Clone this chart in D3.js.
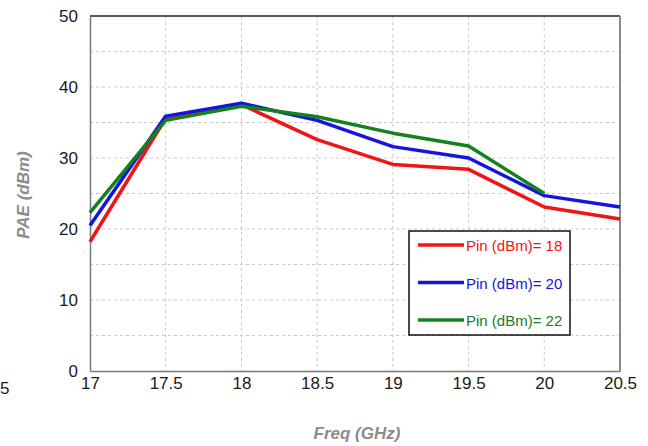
<!DOCTYPE html>
<html>
<head>
<meta charset="utf-8">
<script src="https://cdn.jsdelivr.net/npm/d3@7"></script>
<style>
  html, body { margin: 0; padding: 0; background: #fff; }
  svg { display: block; font-family: "Liberation Sans", Arial, sans-serif; }
</style>
</head>
<body>
<svg id="chart" width="648" height="446"></svg>
<script>
// Frequency points (GHz)
const freqs = [17, 17.5, 18, 18.5, 19, 19.5, 20, 20.5];

// PAE values per input power level
const pae18 = [18.2, 35.6, 37.5, 32.6, 29.1, 28.4, 23.1, 21.4];
const pae20 = [20.5, 35.9, 37.7, 35.3, 31.6, 30.0, 24.7, 23.1];
const pae22 = [22.3, 35.3, 37.3, 35.8, 33.5, 31.7, 25.0];

const seriesNames = ["Pin (dBm)= 18", "Pin (dBm)= 20", "Pin (dBm)= 22"];
const seriesColors = ["#f01414", "#1414e0", "#14801e"];

const xTicks = [17, 17.5, 18, 18.5, 19, 19.5, 20, 20.5];
const yTicks = [0, 10, 20, 30, 40, 50];
const yGrid = [5, 10, 15, 20, 25, 30, 35, 40, 45];

const svg = d3.select("#chart");
const plotL = 90, plotR = 620, plotT = 16, plotB = 371;

const x = d3.scaleLinear().domain([17, 20.5]).range([plotL, plotR]);
const y = d3.scaleLinear().domain([0, 50]).range([plotB, plotT]);

// Grid
const grid = svg.append("g").attr("stroke", "#c8c8c8").attr("stroke-width", 1)
  .attr("stroke-dasharray", "3,3");
grid.selectAll("line.v").data(xTicks.slice(1, -1)).join("line")
  .attr("x1", d => x(d)).attr("x2", d => x(d)).attr("y1", plotT).attr("y2", plotB);
grid.selectAll("line.h").data(yGrid).join("line")
  .attr("x1", plotL).attr("x2", plotR).attr("y1", d => y(d)).attr("y2", d => y(d));

// Frame
svg.append("line").attr("x1", plotL).attr("x2", plotR).attr("y1", plotT).attr("y2", plotT)
  .attr("stroke", "#222").attr("stroke-width", 1.5);
svg.append("line").attr("x1", plotR).attr("x2", plotR).attr("y1", plotT).attr("y2", plotB)
  .attr("stroke", "#8a8a8a").attr("stroke-width", 2);

// Axes
const xAxis = d3.axisBottom(x).tickValues(xTicks).tickSize(0).tickPadding(6)
  .tickFormat(d => d3.format("")(d));
const gx = svg.append("g").attr("transform", `translate(0,${plotB})`).call(xAxis);
gx.select(".domain").attr("stroke", "#7a7a7a").attr("stroke-width", 1.5);
gx.selectAll("text").attr("font-size", 17).attr("fill", "#1a1a1a")
  .attr("font-family", "Liberation Sans, Arial, sans-serif");

const yAxis = d3.axisLeft(y).tickValues(yTicks).tickSize(0).tickPadding(12);
const gy = svg.append("g").attr("transform", `translate(${plotL},0)`).call(yAxis);
gy.select(".domain").attr("stroke", "#7a7a7a").attr("stroke-width", 1.5);
gy.selectAll("text").attr("font-size", 17).attr("fill", "#1a1a1a")
  .attr("font-family", "Liberation Sans, Arial, sans-serif");

// Axis titles
svg.append("text").attr("x", 357).attr("y", 439).attr("text-anchor", "middle")
  .attr("font-size", 17).attr("font-style", "italic").attr("font-weight", "bold")
  .attr("fill", "#8c8c8c").text("Freq (GHz)");
svg.append("text").attr("transform", "translate(29,195) rotate(-90)")
  .attr("text-anchor", "middle").attr("font-size", 17).attr("font-style", "italic")
  .attr("font-weight", "bold").attr("fill", "#8c8c8c").text("PAE (dBm)");

// Stray tick digit at the far left
svg.append("text").attr("x", 0).attr("y", 394).attr("font-size", 17)
  .attr("fill", "#1a1a1a").text("5");

// Series lines
const series = [pae18, pae20, pae22];
const line = d3.line().x((d, i) => x(freqs[i])).y(d => y(d));
svg.append("g").selectAll("path").data(series).join("path")
  .attr("d", d => line(d)).attr("fill", "none")
  .attr("stroke", (d, i) => seriesColors[i]).attr("stroke-width", 3.5)
  .attr("stroke-linejoin", "round");

// Legend
const lg = svg.append("g");
lg.append("rect").attr("x", 409).attr("y", 231).attr("width", 161).attr("height", 104)
  .attr("fill", "#fff").attr("stroke", "#111").attr("stroke-width", 1.5);
const rows = lg.selectAll("g.row").data(seriesNames).join("g")
  .attr("transform", (d, i) => `translate(0,${245 + i * 37.5})`);
rows.append("line").attr("x1", 418).attr("x2", 464).attr("y1", 0).attr("y2", 0)
  .attr("stroke", (d, i) => seriesColors[i]).attr("stroke-width", 3.5);
rows.append("text").attr("x", 466).attr("y", 6).attr("font-size", 15)
  .attr("fill", (d, i) => seriesColors[i]).text(d => d);
</script>
</body>
</html>
